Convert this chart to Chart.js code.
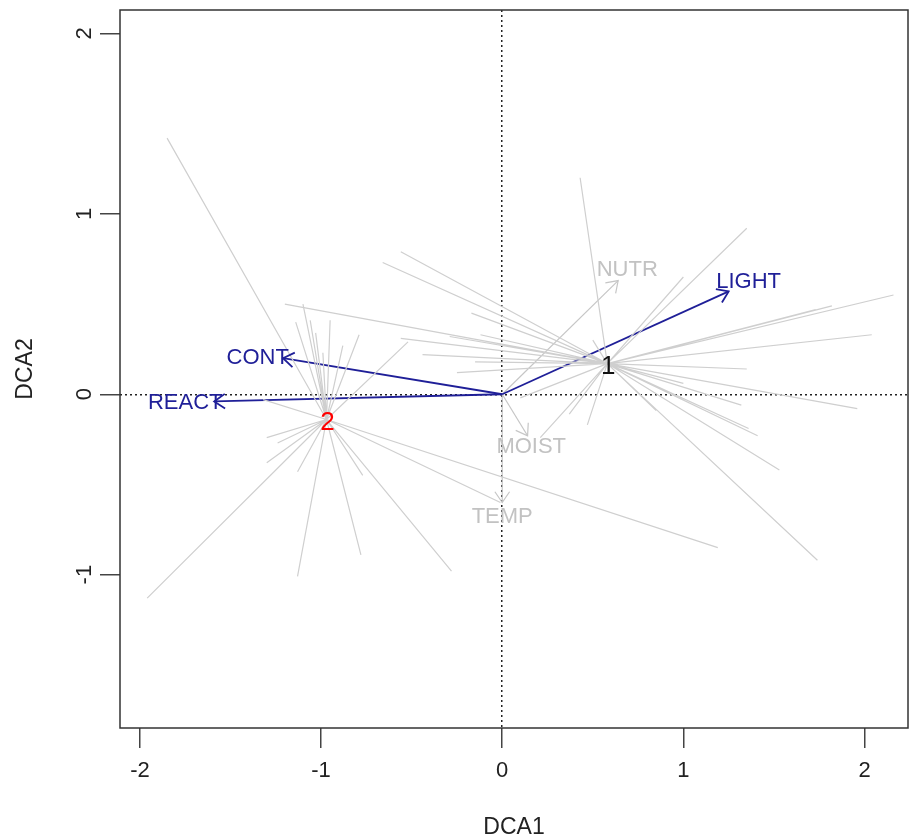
<!DOCTYPE html>
<html>
<head>
<meta charset="utf-8">
<title>DCA</title>
<script src="https://cdn.jsdelivr.net/npm/chart.js@4.4.1/dist/chart.umd.min.js"></script>
<style>
  html, body { margin: 0; padding: 0; background: #fff; }
  #wrap { width: 909px; height: 836px; }
</style>
</head>
<body>
<div id="wrap"><canvas id="chart" width="909" height="836"></canvas></div>
<script>
// cluster centroids
const clusterNames = ['1', '2'];
const clusterX = [0.58, -0.97];
const clusterY = [0.17, -0.14];
const clusterColors = ['#111111', '#ff0000'];

// sites, cluster 1
const sites1X = [0.43, 1.35, 1.00, 2.16, 1.82, 1.73, 2.04, 1.35, 1.96, 1.32, 1.41, 1.36, 1.53, 1.74, 0.85, 1.00,
                 0.47, 0.21, 0.10, 0.50, -0.56, -0.66, -1.20, -0.17, -0.56, -0.44, -0.25, -0.15, -0.29, -0.12, 0.37];
const sites1Y = [1.20, 0.92, 0.65, 0.55, 0.49, 0.47, 0.33, 0.14, -0.08, -0.06, -0.23, -0.19, -0.42, -0.92, -0.09, 0.06,
                 -0.17, -0.24, -0.02, 0.30, 0.79, 0.73, 0.50, 0.45, 0.31, 0.22, 0.12, 0.18, 0.32, 0.33, -0.11];

// sites, cluster 2
const sites2X = [-1.85, -1.10, -1.14, -0.79, -0.52, -0.99, -1.30, -1.24, -1.30, -1.13, -0.77,
                 -1.96, -1.13, -0.78, -0.28, 1.19, -0.01, -1.32, -1.06, -0.95, -0.88, -1.03];
const sites2Y = [1.42, 0.50, 0.40, 0.33, 0.29, 0.23, -0.24, -0.27, -0.38, -0.43, -0.45,
                 -1.13, -1.01, -0.89, -0.98, -0.85, -0.60, -0.03, 0.41, 0.41, 0.27, 0.34];

// environmental vectors
const envNames = ['CONT', 'REACT', 'LIGHT', 'NUTR', 'MOIST', 'TEMP'];
const envX = [-1.21, -1.59, 1.25, 0.64, 0.14, 0.00];
const envY = [0.20, -0.04, 0.57, 0.63, -0.23, -0.60];
const envLabelX = [-1.35, -1.75, 1.36, 0.69, 0.16, 0.00];
const envLabelY = [0.20, -0.05, 0.62, 0.69, -0.29, -0.68];
const envSignif = [true, true, true, false, false, false];

const xTicks = [-2, -1, 0, 1, 2];
const xTickLabels = ['-2', '-1', '0', '1', '2'];
const yTicks = [-1, 0, 1, 2];
const yTickLabels = ['-1', '0', '1', '2'];

const FONT = '"Liberation Sans", Arial, sans-serif';
const NAVY = '#1f1f98';
const GREY = '#c6c6c6';

function spiderData(cx, cy, xs, ys) {
    const pts = [];
    for (let i = 0; i < xs.length; i++) {
        pts.push({x: cx, y: cy}, {x: xs[i], y: ys[i]}, {x: cx, y: null});
    }
    return pts;
}

function buildDatasets() {
    const sets = [];
    const sx = [sites1X, sites2X];
    const sy = [sites1Y, sites2Y];
    for (let c = 0; c < clusterNames.length; c++) {
        sets.push({
            data: spiderData(clusterX[c], clusterY[c], sx[c], sy[c]),
            borderColor: '#cfcfcf',
            borderWidth: 1.2,
            pointRadius: 0,
            spanGaps: false
        });
    }
    for (let i = 0; i < envNames.length; i++) {
        sets.push({
            data: [{x: 0, y: 0}, {x: envX[i], y: envY[i]}],
            borderColor: envSignif[i] ? NAVY : GREY,
            borderWidth: envSignif[i] ? 1.8 : 1.2,
            pointRadius: 0
        });
    }
    return sets;
}

const overlay = {
    id: 'overlay',
    afterDatasetsDraw(chart) {
        const ctx = chart.ctx;
        const xs = chart.scales.x, ys = chart.scales.y;
        const x0 = xs.getPixelForValue(0), y0 = ys.getPixelForValue(0);
        ctx.save();
        // arrow heads
        for (let i = 0; i < envNames.length; i++) {
            const tx = xs.getPixelForValue(envX[i]);
            const ty = ys.getPixelForValue(envY[i]);
            const a = Math.atan2(ty - y0, tx - x0);
            ctx.strokeStyle = envSignif[i] ? NAVY : GREY;
            ctx.lineWidth = envSignif[i] ? 1.8 : 1.2;
            ctx.beginPath();
            ctx.moveTo(tx - 13 * Math.cos(a - 0.6), ty - 13 * Math.sin(a - 0.6));
            ctx.lineTo(tx, ty);
            ctx.lineTo(tx - 13 * Math.cos(a + 0.6), ty - 13 * Math.sin(a + 0.6));
            ctx.stroke();
        }
        ctx.textAlign = 'center';
        ctx.textBaseline = 'middle';
        ctx.font = '22px ' + FONT;
        for (let i = 0; i < envNames.length; i++) {
            ctx.fillStyle = envSignif[i] ? NAVY : '#c2c2c2';
            ctx.fillText(envNames[i], xs.getPixelForValue(envLabelX[i]), ys.getPixelForValue(envLabelY[i]));
        }
        ctx.font = '26px ' + FONT;
        for (let c = 0; c < clusterNames.length; c++) {
            ctx.fillStyle = clusterColors[c];
            ctx.fillText(clusterNames[c], xs.getPixelForValue(clusterX[c]) + 1, ys.getPixelForValue(clusterY[c]) + 3);
        }
        ctx.restore();
    },
    afterDraw(chart) {
        const ctx = chart.ctx;
        const area = chart.chartArea;
        const ys = chart.scales.y;
        ctx.save();
        ctx.strokeStyle = '#333';
        ctx.lineWidth = 1.5;
        ctx.strokeRect(area.left, area.top, area.right - area.left, area.bottom - area.top);
        ctx.fillStyle = '#222';
        ctx.font = '22px ' + FONT;
        ctx.textAlign = 'center';
        ctx.textBaseline = 'middle';
        for (let i = 0; i < yTicks.length; i++) {
            ctx.save();
            ctx.translate(85, ys.getPixelForValue(yTicks[i]));
            ctx.rotate(-Math.PI / 2);
            ctx.fillText(yTickLabels[i], 0, 0);
            ctx.restore();
        }
        ctx.restore();
    }
};

function zeroGrid(ctx) {
    return ctx.tick && ctx.tick.value === 0 ? '#222' : 'rgba(0,0,0,0)';
}

function makeChart() {
    new Chart(document.getElementById('chart'), {
        type: 'line',
        data: {datasets: buildDatasets()},
        plugins: [overlay],
        options: {
            responsive: false,
            animation: false,
            devicePixelRatio: 1,
            layout: {padding: {top: 10, right: 1, left: 0, bottom: 0}},
            plugins: {legend: {display: false}, tooltip: {enabled: false}},
            scales: {
                x: {
                    type: 'linear',
                    min: -2.11,
                    max: 2.24,
                    afterBuildTicks: s => { s.ticks = xTicks.map(v => ({value: v})); },
                    afterFit: s => { s.height = 108; },
                    ticks: {
                        callback: (v, i) => xTickLabels[i],
                        color: '#222',
                        font: {family: FONT, size: 22},
                        padding: 10,
                        maxRotation: 0
                    },
                    grid: {color: zeroGrid, lineWidth: 1.5, tickColor: '#444', tickLength: 20, tickWidth: 1.5},
                    border: {display: false, dash: [2, 3]},
                    title: {display: true, text: 'DCA1', color: '#222', font: {family: FONT, size: 23, lineHeight: 1}, padding: {top: 0, bottom: -3}}
                },
                y: {
                    type: 'linear',
                    min: -1.85,
                    max: 2.13,
                    afterBuildTicks: s => { s.ticks = yTicks.map(v => ({value: v})); },
                    afterFit: s => { s.width = 120; },
                    ticks: {display: false},
                    grid: {color: zeroGrid, lineWidth: 1.5, tickColor: '#444', tickLength: 20, tickWidth: 1.5},
                    border: {display: false, dash: [2, 3]},
                    title: {display: true, text: 'DCA2', color: '#222', font: {family: FONT, size: 23, lineHeight: 1}, padding: {top: 14, bottom: 0}}
                }
            }
        }
    });
}

makeChart();
</script>
</body>
</html>
